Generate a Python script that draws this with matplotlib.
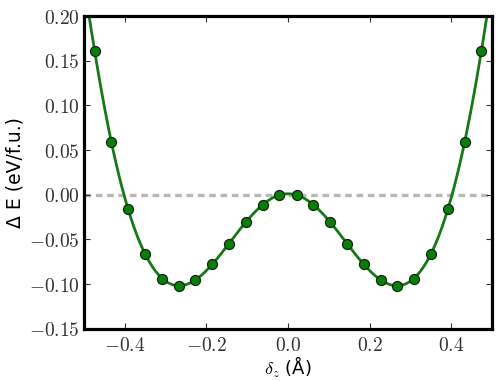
import numpy as np
import matplotlib
matplotlib.use("Agg")
import matplotlib.pyplot as plt
from matplotlib.ticker import FuncFormatter, MultipleLocator

plt.rcParams['mathtext.fontset'] = 'cm'

# displacement (Angstrom) and energy (eV/f.u.)
dz = [-0.474, -0.433, -0.392, -0.350, -0.309, -0.268, -0.227, -0.186,
      -0.144, -0.103, -0.062, -0.021, 0.021, 0.062, 0.103, 0.144,
      0.186, 0.227, 0.268, 0.309, 0.350, 0.392, 0.433, 0.474]
dE = [0.161, 0.059, -0.016, -0.066, -0.094, -0.102, -0.095, -0.077,
      -0.055, -0.031, -0.011, 0.000, 0.000, -0.011, -0.031, -0.055,
      -0.077, -0.095, -0.102, -0.094, -0.066, -0.016, 0.059, 0.161]

fig = plt.figure(figsize=(5, 3.81), dpi=100)
ax = fig.add_axes([0.168, 0.137, 0.816, 0.821])

# smooth fit through the computed points
coef = np.polyfit(dz, dE, 10)
xf = np.linspace(-0.5, 0.5, 400)
ax.plot(xf, np.polyval(coef, xf), color='#157a15', lw=2.0, zorder=2)
ax.plot(dz, dE, 'o', color='#0a7d0a', mec='#0b2b0b', mew=0.9, ms=7.2, zorder=3)

ax.axhline(0, color='#b8b8b8', lw=2.4, ls=(0, (2.0, 1.4)), zorder=1)

ax.set_xlim(-0.5, 0.5)
ax.set_ylim(-0.15, 0.20)
ax.xaxis.set_major_locator(MultipleLocator(0.2))
ax.yaxis.set_major_locator(MultipleLocator(0.05))
ax.xaxis.set_major_formatter(FuncFormatter(lambda v, p: r'$%.1f$' % (0 if abs(v) < 1e-9 else v)))
ax.yaxis.set_major_formatter(FuncFormatter(lambda v, p: r'$%.2f$' % (0 if abs(v) < 1e-9 else v)))

for s in ax.spines.values():
    s.set_linewidth(2.3)
ax.tick_params(direction='in', top=True, right=True, length=4, width=0.8,
               labelsize=14, colors='#333333')
ax.tick_params(axis='x', pad=5)
ax.tick_params(axis='y', pad=3)

ax.set_xlabel(r'$\delta_z$ (Å)', fontsize=13, labelpad=0)
ax.set_ylabel('Δ E (eV/f.u.)', fontsize=13.5, labelpad=3)

fig.savefig('out.png', dpi=100)
